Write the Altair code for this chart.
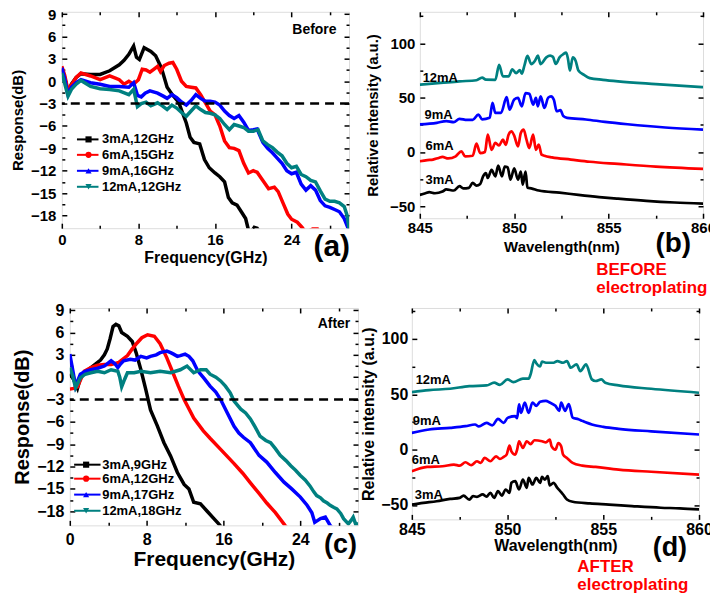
import altair as alt
import pandas as pd

FONT = "Liberation Sans"
SERIES = ["3mA", "6mA", "9mA", "12mA"]
COLORS = ["#000000", "#ff0000", "#0000ff", "#008080"]
SHAPES = ["square", "circle", "triangle-up", "triangle-down"]

A_LEGEND = ["3mA,12GHz", "6mA,15GHz", "9mA,16GHz", "12mA,12GHz"]
C_LEGEND = ["3mA,9GHz", "6mA,12GHz", "9mA,17GHz", "12mA,18GHz"]

# ---------------- panel (a): response before electroplating ----------------
A3_F = [0, 0.3, 0.65, 1.0, 1.5, 2.0, 3.0, 4.0, 5.0, 6.0, 6.5, 7.0, 7.5, 7.8, 8.1, 8.6, 9.3, 9.8, 10.4,
        11.0, 11.6, 12.2, 12.6, 13.0, 13.4, 13.8, 14.4, 14.9, 15.4, 16.0, 16.5, 17.0, 17.4, 17.8, 18.3,
        18.8, 19.2, 19.6, 20.1, 20.4, 20.8]
A3_V = [1.6, 0.5, -1.5, -0.4, 0.5, 1.0, 0.9, 0.9, 1.4, 2.2, 2.8, 3.6, 4.7, 3.2, 2.9, 4.5, 4.0, 3.4, 1.8,
        -0.8, -1.9, -2.8, -4.2, -5.6, -7.5, -8.2, -8.4, -10.5, -11.6, -12.3, -12.8, -13.5, -15.6, -16.3, -16.6,
        -17.6, -18.4, -20.5, -19.6, -19.7, -20.5]
A6_F = [0, 0.3, 0.65, 1.0, 1.5, 2.0, 3.0, 4.0, 5.0, 5.6, 6.0, 6.5, 7.0, 7.5, 8.0, 8.4, 8.8, 9.2, 9.6, 10.0,
        10.3, 10.7, 11.2, 11.6, 12.0, 12.5, 13.0, 13.5, 14.0, 14.5, 15.0, 15.5, 16.0, 16.5, 17.0, 17.5, 18.0,
        18.5, 19.0, 19.5, 20.0, 20.4, 21.0, 21.6, 22.2, 22.6, 23.1, 23.6, 24.0, 24.6, 25.1, 25.5, 26.2, 26.7, 27.0]
A6_V = [2.0, 0.8, -1.3, -0.5, 0.5, 1.1, 0.7, 0.2, 0.7, 0.4, 0.2, -0.4, 0.0, -0.4, 0.2, 1.6, 1.5, 1.2, 1.6, 2.0,
        1.3, 2.1, 2.4, 2.5, 1.6, 0.0, -0.7, -0.8, -0.9, -1.8, -2.9, -4.0, -4.5, -6.0, -8.0, -8.9, -9.0,
        -9.3, -11.0, -12.3, -12.0, -12.2, -13.3, -14.4, -14.2, -14.8, -16.3, -17.8, -18.5, -18.9, -19.6, -20.3, -19.8, -19.8, -20.5]
A9_F = [0, 0.3, 0.65, 1.0, 1.5, 2.0, 3.0, 4.0, 5.0, 6.0, 7.0, 7.5, 7.9, 8.3, 8.7, 9.2, 10.0, 10.6, 11.0, 11.5,
        12.0, 12.5, 13.0, 13.5, 14.0, 14.5, 15.0, 15.5, 16.0, 16.5, 17.0, 17.5, 18.0, 18.5, 19.0, 19.5, 20.0,
        20.4, 21.0, 21.5, 22.0, 22.5, 23.0, 23.5, 24.0, 24.5, 25.0, 25.5, 26.0, 26.5, 27.0, 27.5, 28.0, 28.5,
        29.0, 29.5, 30.0]
A9_V = [1.8, 0.3, -1.8, -0.8, -0.2, 0.2, -0.2, -0.4, -0.7, -0.7, -0.8, -0.2, -1.9, -2.1, -1.6, -1.3, -1.6, -2.0,
        -2.3, -1.8, -2.2, -2.8, -3.2, -2.6, -1.8, -2.3, -2.7, -2.7, -2.8, -3.2, -4.0, -4.6, -5.0, -4.6, -5.5,
        -6.6, -6.5, -6.4, -8.2, -9.0, -9.6, -10.3, -11.0, -12.0, -12.4, -12.2, -13.8, -14.6, -14.0, -14.6,
        -16.0, -16.7, -16.9, -17.2, -17.5, -18.4, -20.0]
A12_F = [0, 0.3, 0.65, 1.0, 1.5, 2.0, 3.0, 4.0, 5.0, 6.0, 7.0, 7.5, 7.9, 8.3, 8.8, 9.3, 10.0, 10.5, 11.0, 11.5,
         12.0, 12.5, 13.0, 13.5, 14.0, 14.5, 15.0, 15.5, 16.0, 16.5, 17.0, 17.5, 18.0, 18.5, 19.0, 19.5, 20.0,
         20.5, 21.0, 21.5, 22.0, 22.5, 23.0, 23.5, 24.0, 24.5, 25.0, 25.5, 26.0, 26.5, 27.0, 27.5, 28.0, 28.5,
         29.0, 29.5, 29.8, 30.0]
A12_V = [1.1, -0.3, -2.0, -1.1, -0.4, 0.1, -0.7, -1.0, -1.1, -1.3, -1.8, -1.1, -3.4, -3.0, -2.8, -3.3, -2.9, -3.3,
         -3.8, -3.2, -3.6, -4.2, -4.7, -4.0, -3.3, -3.8, -4.2, -4.3, -4.5, -5.0, -5.8, -6.5, -5.8, -6.0, -6.2,
         -6.7, -6.7, -6.5, -8.0, -8.5, -8.9, -9.5, -10.0, -11.0, -11.6, -11.4, -12.5, -12.8, -13.3, -13.5,
         -14.7, -15.8, -16.1, -16.1, -16.3, -16.8, -18.0, -19.8]

# ---------------- panel (c): response after electroplating ----------------
C3_F = [0, 0.4, 0.8, 1.1, 1.5, 2.2, 2.8, 3.2, 3.6, 3.9, 4.2, 4.5, 4.8, 5.1, 5.4, 6.0, 6.5, 6.9, 7.4, 7.9,
        8.4, 9.1, 9.8, 10.5, 11.2, 11.9, 12.4, 12.9, 13.6, 14.3, 15.0, 15.5, 16.0]
C3_V = [0.5, -0.3, -1.5, -0.1, 0.6, 1.3, 1.9, 2.3, 3.0, 3.8, 5.2, 6.8, 7.1, 6.9, 6.0, 5.5, 4.8, 3.3, 1.0, -1.6,
        -4.4, -6.5, -8.8, -10.6, -12.8, -14.4, -15.0, -16.8, -17.0, -18.0, -19.0, -19.7, -20.5]
C6_F = [0, 0.4, 0.8, 1.5, 2.2, 2.9, 3.6, 4.3, 5.1, 6.0, 6.5, 7.0, 7.5, 8.1, 8.8, 9.4, 10.1, 10.8, 11.3, 11.9,
        12.9, 13.9, 14.6, 15.7, 17.1, 18.0, 18.8, 19.7, 20.5, 21.4, 22.4, 23.0]
C6_V = [-1.6, -1.5, -1.3, 0.8, 1.3, 1.6, 1.7, 1.7, 2.0, 2.9, 3.8, 4.6, 5.3, 5.7, 5.5, 4.5, 2.6, 0.4, -1.2, -3.0,
        -5.5, -7.2, -8.2, -9.7, -11.6, -12.9, -14.2, -15.6, -16.9, -18.2, -19.9, -20.8]
C9_F = [0, 0.3, 0.6, 1.1, 1.6, 2.2, 2.9, 3.6, 4.3, 4.7, 5.0, 5.3, 5.6, 6.3, 6.8, 7.4, 8.0, 8.4, 9.0, 9.4,
        10.1, 10.5, 10.8, 11.2, 11.5, 12.0, 12.4, 12.8, 13.3, 14.0, 14.6, 15.2, 15.7, 16.4, 17.1, 17.6, 18.1,
        18.8, 19.7, 20.5, 21.4, 22.3, 23.1, 24.0, 24.7, 25.2, 25.5, 26.1, 26.6, 27.1, 27.5]
C9_V = [3.1, 1.0, -1.2, 0.4, 0.8, 1.0, 1.2, 1.5, 2.2, 1.8, 1.3, 1.8, 2.2, 2.4, 2.3, 2.8, 2.6, 2.8, 3.0, 3.3,
        3.5, 3.3, 3.1, 2.8, 2.9, 3.1, 2.8, 2.2, 0.9, -0.2, -1.2, -2.0, -3.0, -4.8, -6.6, -7.5, -8.1,
        -8.8, -10.5, -11.4, -12.8, -14.1, -15.0, -16.1, -17.2, -18.2, -19.5, -19.0, -18.8, -19.9, -20.5]
C12_F = [0, 0.3, 0.6, 1.1, 1.6, 2.2, 2.9, 3.6, 4.3, 5.0, 5.2, 5.4, 5.7, 6.0, 6.7, 7.4, 8.4, 9.4, 10.5, 11.5,
         12.2, 12.9, 13.6, 14.2, 14.6, 15.2, 15.7, 16.2, 16.7, 17.1, 17.8, 18.3, 18.8, 19.3, 19.8, 20.4, 20.9,
         21.4, 21.9, 22.5, 23.0, 23.5, 24.0, 24.5, 25.0, 25.4, 25.7, 26.1, 26.4, 26.8, 27.1, 27.5, 27.8, 28.2,
         28.5, 29.0, 29.3, 29.5, 29.8, 30.0]
C12_V = [1.3, 0.2, -1.4, -0.1, 0.4, 0.6, 0.8, 0.6, 1.0, 0.8, 0.0, -1.3, -0.3, 0.6, 0.6, 0.8, 0.6, 0.8, 0.6, 1.0,
         1.5, 0.6, 1.0, 1.0, 0.4, 0.0, -0.5, -1.2, -2.1, -3.2, -4.3, -4.8, -5.6, -6.7, -7.9, -8.5, -8.8,
         -9.6, -10.5, -11.2, -11.9, -12.5, -13.2, -13.8, -14.6, -15.4, -15.9, -16.2, -16.6, -16.9, -17.2, -17.5,
         -17.7, -18.3, -19.0, -19.7, -19.2, -18.8, -19.9, -19.5]

# ---------------- panel (b): spectra before electroplating ----------------
B3_W = [845.0, 845.3, 845.5, 845.8, 846.2, 846.4, 846.8, 847.1, 847.3, 847.6, 847.8, 848.0, 848.2, 848.35,
        848.5, 848.6, 848.8, 849.0, 849.15, 849.35, 849.5, 849.65, 849.8, 850.0, 850.2, 850.35, 850.45, 850.6,
        850.7, 850.9, 851.3, 852.4, 853.4, 854.5, 855.5, 857.0, 858.5, 860.0]
B3_I = [-39.5, -38, -37, -38, -36.5, -34.5, -35.5, -31.5, -33.5, -33, -28.5, -31, -29.5, -22.5, -19.5, -24,
        -16.5, -22.5, -12.5, -22.5, -13.5, -14, -25.5, -15, -25.5, -18, -30, -18, -33, -33.5, -35.5, -37.5,
        -39.5, -41.5, -43, -45, -46.5, -47.5]
B6_W = [845.0, 845.4, 845.7, 846.0, 846.2, 846.5, 846.9, 847.2, 847.4, 847.8, 848.0, 848.2, 848.45, 848.6,
        848.8, 849.0, 849.2, 849.4, 849.55, 849.7, 849.85, 850.0, 850.2, 850.35, 850.5, 850.65, 850.8, 851.0,
        851.15, 851.3, 851.45, 851.6, 852.0, 853.0, 854.0, 855.5, 857.5, 860.0]
B6_I = [-8.6, -7.5, -7, -5.5, -4.6, -6, -4, 0.6, -4, -3.5, 7.6, -1.1, 0, 15.9, 2, 8.3, 6.0, 11.3, 6.5, 15.9,
        19, 15, 5.2, 17.5, 20.5, 11.3, 3.6, 15.9, 2, 6.7, -2.5, -3.5, -5, -7, -9, -11, -13.5, -15.6]
B9_W = [845.0, 845.9, 846.4, 846.8, 847.1, 847.5, 847.8, 848.1, 848.3, 848.7, 848.85, 849.0, 849.3, 849.6,
        849.75, 850.0, 850.2, 850.4, 850.6, 850.8, 851.0, 851.15, 851.25, 851.4, 851.6, 851.8, 851.95, 852.1,
        852.25, 852.45, 852.6, 852.8, 853.8, 854.8, 856.0, 858.0, 860.0]
B9_I = [25.3, 26.8, 28.4, 27.5, 30.5, 29.5, 29.5, 34.4, 30, 31.4, 45.1, 36, 36, 50.5, 39, 48.2, 49.7, 42,
        54.2, 53.6, 43.6, 49.7, 42, 51.2, 40.5, 50, 51.2, 48, 37.5, 38.5, 33, 31.4, 29.9, 27.7, 25.5, 22.5, 20.5]
B12_W = [845.0, 846.1, 847.1, 848.0, 848.3, 848.5, 849.0, 849.2, 849.4, 849.7, 849.9, 850.1, 850.3, 850.4,
         850.55, 850.7, 850.9, 851.1, 851.25, 851.4, 851.7, 851.9, 852.05, 852.2, 852.4, 852.6, 852.75, 852.85,
         852.95, 853.1, 853.25, 853.4, 853.7, 854.0, 854.7, 855.5, 857.5, 860.0]
B12_I = [61.9, 63.5, 65, 66, 68.5, 66.5, 66.4, 80.2, 69.6, 69.5, 76, 72.5, 75.4, 72, 80.2, 88.5, 80.9, 84,
         88.6, 80.9, 87, 88.6, 87.5, 81, 87, 90, 91.5, 85.4, 75, 87, 84, 75, 70.9, 68, 66.4, 65, 62.5, 59.7]

# ---------------- panel (d): spectra after electroplating ----------------
D3_W = [845.0, 845.6, 846.3, 847.0, 847.5, 847.7, 848.0, 848.2, 848.4, 848.7, 848.9, 849.1, 849.3, 849.5,
        849.7, 849.9, 850.1, 850.2, 850.4, 850.6, 850.8, 851.0, 851.1, 851.3, 851.5, 851.7, 851.8, 851.95,
        852.1, 852.2, 852.4, 852.6, 852.8, 852.9, 853.1, 853.4, 854.3, 855.3, 856.5, 858.0, 859.0, 860.0]
D3_I = [-49.6, -48.1, -46.6, -44.5, -43.6, -41.5, -45.1, -42, -42.6, -40.5, -42.5, -39, -43.6, -37.5, -41.5,
        -36, -39, -30, -28.5, -36, -27, -34.5, -25.5, -31.5, -25.5, -30, -24.6, -27, -24, -32.4, -30, -34.5,
        -38.4, -40.5, -45, -47.1, -48.6, -49.6, -51, -52.5, -53, -54]
D6_W = [845.0, 845.8, 846.6, 847.2, 847.5, 847.8, 848.1, 848.4, 848.6, 848.8, 849.1, 849.4, 849.6, 849.8,
        849.95, 850.1, 850.2, 850.4, 850.5, 850.6, 850.8, 851.0, 851.2, 851.4, 851.8, 852.0, 852.2, 852.3,
        852.5, 852.65, 852.8, 852.9, 853.1, 853.4, 853.9, 854.6, 855.8, 857.5, 860.0]
D6_I = [-19.5, -15.6, -15, -13.5, -14.5, -11.4, -14, -10.5, -12, -7.5, -10.5, -6, -8.4, -6.5, -4.5, 3.6, -1.5,
        -4.5, 0, 7.6, 1.5, 7.6, 5, 8.5, 7.6, 6.6, 9, 3, 0, 6, 3, -4.5, -7.5, -12, -14.4, -15.6, -18, -20, -22.5]
D9_W = [845.0, 845.9, 847.0, 847.8, 848.3, 848.5, 848.9, 849.2, 849.5, 849.8, 850.0, 850.4, 850.5, 850.6,
        850.7, 850.9, 851.1, 851.3, 851.5, 851.7, 852.0, 852.2, 852.5, 852.7, 852.8, 853.0, 853.2, 853.4,
        853.7, 853.9, 854.4, 855.0, 855.8, 857.5, 860.0]
D9_I = [15.2, 18.2, 19.7, 21.2, 22.7, 21, 24.2, 22, 27.8, 24.2, 28.7, 30.2, 28.5, 41, 33.2, 42.6, 33.2, 42.6,
        39.6, 43.2, 44.1, 42.6, 39.6, 35.1, 42.6, 35.1, 41.1, 29, 27.5, 26, 22.7, 20.6, 18.8, 16.5, 13.7]
D12_W = [845.0, 845.9, 847.0, 848.0, 848.9, 849.3, 849.6, 850.0, 850.3, 850.8, 851.1, 851.2, 851.4, 851.5,
         851.7, 851.8, 852.0, 852.4, 852.6, 852.9, 853.1, 853.3, 853.6, 853.8, 854.1, 854.4, 854.6, 854.9,
         855.1, 855.8, 857.5, 860.0]
D12_I = [52, 53.8, 55, 57.4, 58, 60.5, 58.5, 63.5, 61, 64.1, 64.1, 67.9, 81, 78, 75.2, 79.6, 78.5, 78.5, 80,
         78.5, 80, 74, 77, 71, 77, 63.5, 62, 63.5, 60.5, 58, 55, 51.4]

# in-plot curve labels of the spectra panels (wavelength, intensity)
B_LABEL_W = [845.3, 845.3, 845.25, 845.15]
B_LABEL_I = [-25.5, 5.1, 34.3, 68]
D_LABEL_W = [845.15, 845.0, 845.05, 845.2]
D_LABEL_I = [-40.6, -9, 26.3, 62.8]


def long_df(pairs):
    rows = []
    for s, (xs, ys) in zip(SERIES, pairs):
        for i, (x, y) in enumerate(zip(xs, ys)):
            rows.append({"s": s, "x": x, "y": y, "o": i})
    return pd.DataFrame(rows)


COLOR = alt.Color("s:N", scale=alt.Scale(domain=SERIES, range=COLORS), legend=None)


def panel(df, W, H, xdom, ydom, xmaj, xmin_, ymaj, ymin_, lw, interp, xtitle, ytitle,
          lab_size, xt_size, yt_size, xlp, xtp, ylp, ytp, extra):
    xs = alt.Scale(domain=xdom, nice=False, zero=False)
    ys = alt.Scale(domain=ydom, nice=False, zero=False)
    lab_common = dict(ticks=False, domain=False, grid=False, labelFlush=False, labelOverlap=False,
                      labelFont=FONT, labelFontSize=lab_size, labelFontWeight="bold", labelColor="black",
                      titleFont=FONT, titleFontWeight="bold", titleColor="black")
    line = alt.Chart(df).mark_line(strokeWidth=lw, clip=True, interpolate=interp).encode(
        x=alt.X("x:Q", scale=xs, axis=alt.Axis(orient="bottom", values=xmaj, labelPadding=xlp,
                                                title=xtitle, titleFontSize=xt_size, titlePadding=xtp,
                                                **lab_common)),
        y=alt.Y("y:Q", scale=ys, axis=alt.Axis(orient="left", values=ymaj, labelPadding=ylp,
                                                title=ytitle, titleFontSize=yt_size, titlePadding=ytp,
                                                **lab_common)),
        color=COLOR,
        order="o:Q",
    )
    corners = pd.DataFrame({"x": xdom, "y": ydom})

    def tick_layer(xo, yo, xv, yv, size):
        tc = dict(labels=False, domain=False, grid=False, title=None, tickColor="black", tickWidth=1.5,
                  tickSize=size)
        return alt.Chart(corners).mark_point(opacity=0, size=1).encode(
            x=alt.X("x:Q", scale=xs, axis=alt.Axis(orient=xo, offset=-H, values=xv, **tc)),
            y=alt.Y("y:Q", scale=ys, axis=alt.Axis(orient=yo, offset=-W, values=yv, **tc)),
        )

    ticks = [
        tick_layer("top", "right", xmaj, ymaj, 5),
        tick_layer("bottom", "left", xmaj, ymaj, 5),
        tick_layer("top", "right", xmin_, ymin_, 3),
        tick_layer("bottom", "left", xmin_, ymin_, 3),
    ]
    layers = [line] + [f(xs, ys) for f in extra] + ticks
    return alt.layer(*layers).resolve_axis(x="independent", y="independent").properties(width=W, height=H)


def dashed(xs, ys):
    return alt.Chart(pd.DataFrame({"y": [-3]})).mark_rule(
        strokeDash=[9, 6], strokeWidth=2.5, color="black").encode(y=alt.Y("y:Q", scale=ys, axis=None))


def legend_layers(labels, x0, x1, xm, xt, yrows, fsize):
    def make(xs, ys):
        d = pd.DataFrame({"s": SERIES, "lab": labels, "yy": yrows,
                          "x0": [x0] * 4, "x1": [x1] * 4, "xm": [xm] * 4, "xt": [xt] * 4})
        base = alt.Chart(d)
        r = base.mark_rule(strokeWidth=2).encode(
            x=alt.X("x0:Q", scale=xs, axis=None), x2="x1:Q",
            y=alt.Y("yy:Q", scale=ys, axis=None), color=COLOR)
        p = base.mark_point(filled=True, size=38, opacity=1).encode(
            x=alt.X("xm:Q", scale=xs, axis=None), y=alt.Y("yy:Q", scale=ys, axis=None), color=COLOR,
            shape=alt.Shape("s:N", scale=alt.Scale(domain=SERIES, range=SHAPES), legend=None))
        t = base.mark_text(align="left", baseline="middle", font=FONT, fontSize=fsize,
                           fontWeight="bold", color="black").encode(
            x=alt.X("xt:Q", scale=xs, axis=None), y=alt.Y("yy:Q", scale=ys, axis=None), text="lab:N")
        return alt.layer(r, p, t)
    return make


def text_at(txt, xv, yv, align, size):
    def make(xs, ys):
        d = pd.DataFrame({"t": [txt], "x": [xv], "y": [yv]})
        return alt.Chart(d).mark_text(align=align, baseline="middle", font=FONT, fontSize=size,
                                      fontWeight="bold", color="black").encode(
            x=alt.X("x:Q", scale=xs, axis=None), y=alt.Y("y:Q", scale=ys, axis=None), text="t:N")
    return make


def curve_labels(ws, vs):
    def make(xs, ys):
        d = pd.DataFrame({"t": SERIES, "x": ws, "y": vs})
        return alt.Chart(d).mark_text(align="left", baseline="middle", font=FONT, fontSize=13,
                                      fontWeight="bold", color="black").encode(
            x=alt.X("x:Q", scale=xs, axis=None), y=alt.Y("y:Q", scale=ys, axis=None), text="t:N")
    return make


def pixel_text(txt, px, py, size, color="black", align="right", line_height=None):
    def make(xs, ys):
        kw = dict(align=align, baseline="alphabetic", font=FONT, fontSize=size, fontWeight="bold",
                  color=color, lineBreak="\n")
        if line_height:
            kw["lineHeight"] = line_height
        return alt.Chart(pd.DataFrame({"t": [txt]})).mark_text(**kw).encode(
            x=alt.value(px), y=alt.value(py), text="t:N")
    return make


def anchor(px, py0, py1):
    # invisible hairline that fixes the layout extent of a panel
    def make(xs, ys):
        return alt.Chart(pd.DataFrame({"k": [0]})).mark_rule(
            color="white", opacity=0, strokeWidth=0.1).encode(
            x=alt.value(px), y=alt.value(py0), y2=alt.value(py1))
    return make


def spacer(w, h):
    return alt.Chart(pd.DataFrame({"x": [0]})).mark_point(opacity=0, size=1).encode(
        x=alt.X("x:Q", axis=None)).properties(width=w, height=h,
                                              view=alt.ViewBackground(stroke="transparent"))


F_MAJ = [0, 8, 16, 24]
F_MIN = [4, 12, 20, 28]
R_MAJ = [-18, -15, -12, -9, -6, -3, 0, 3, 6, 9]
R_MIN = [-16.5, -13.5, -10.5, -7.5, -4.5, -1.5, 1.5, 4.5, 7.5]
W_MAJ = [845, 850, 855, 860]
W_MIN = [847.5, 852.5, 857.5]
I_MAJ = [-50, 0, 50, 100]
I_MIN = [-25, 25, 75, 125]

WA, HA = 288, 217
WB, HB = 284, 207
WC, HC = 289, 218
WD, HD = 288, 212

pa = panel(long_df([(A3_F, A3_V), (A6_F, A6_V), (A9_F, A9_V), (A12_F, A12_V)]), WA, HA,
           [0, 30], [-19.7, 9.3], F_MAJ, F_MIN, R_MAJ, R_MIN, 3.5, "linear",
           "Frequency(GHz)", "Response(dB)", 15, 16, 15, 4, 2, 6, 5,
           [dashed,
            legend_layers(A_LEGEND, 1.58, 3.83, 2.79, 4.19, [-7.8, -9.87, -12.01, -14.15], 13),
            text_at("Before", 28.7, 6.8, "right", 14),
            pixel_text("(a)", WA + 1, HA + 28, 30),
            anchor(-61.5, -10, -9),
            anchor(0, 287, 288.9)])

pc = panel(long_df([(C3_F, C3_V), (C6_F, C6_V), (C9_F, C9_V), (C12_F, C12_V)]), WC, HC,
           [0, 30], [-19.9, 9.3], F_MAJ, F_MIN, R_MAJ, R_MIN, 3.5, "linear",
           "Frequency(GHz)", "Response(dB)", 16, 21, 20, 6, 1, 6, 4,
           [dashed,
            legend_layers(C_LEGEND, 0.45, 3.2, 1.7, 3.37, [-11.75, -13.63, -15.77, -17.94], 13),
            text_at("After", 29.2, 7.1, "right", 14),
            pixel_text("(c)", WC - 1, HC + 28, 27),
            anchor(0, -5.9, -5)])

pb = panel(long_df([(B3_W, B3_I), (B6_W, B6_I), (B9_W, B9_I), (B12_W, B12_I)]), WB, HB,
           [845, 860], [-61, 129], W_MAJ, W_MIN, I_MAJ, I_MIN, 2.7, "monotone",
           "Wavelength(nm)", "Relative intensity (a.u.)", 15, 15, 15, 2, 4, 5, 9,
           [curve_labels(B_LABEL_W, B_LABEL_I),
            pixel_text("(b)", WB - 12, HB + 34, 28),
            pixel_text("BEFORE\nelectroplating", 177, HB + 57, 17, color="#ff0000", align="left",
                       line_height=18)])

pdd = panel(long_df([(D3_W, D3_I), (D6_W, D6_I), (D9_W, D9_I), (D12_W, D12_I)]), WD, HD,
            [845, 860], [-63, 128], W_MAJ, W_MIN, I_MAJ, I_MIN, 2.7, "monotone",
            "Wavelength(nm)", "Relative intensity (a.u.)", 16, 16, 16, 2, 0, 4, 4,
            [curve_labels(D_LABEL_W, D_LABEL_I),
             pixel_text("(d)", WD - 12, HD + 37, 27),
             pixel_text("AFTER\nelectroplating", 166, HD + 53, 17, color="#ff0000", align="left",
                        line_height=18)])

top = alt.hconcat(pa, spacer(71, 10), pb, spacing=0, bounds="flush")
bottom = alt.hconcat(spacer(7.5, 10), pc, spacer(54, 10), pdd, spacing=0, bounds="flush")
chart = alt.vconcat(top, bottom, spacing=0, bounds="full").properties(
    padding={"left": 0, "top": 0, "right": -7, "bottom": 0}
).configure_view(stroke="black", strokeWidth=2).configure(background="white")

chart.save("out.html", embed_options={"renderer": "svg", "actions": False})
